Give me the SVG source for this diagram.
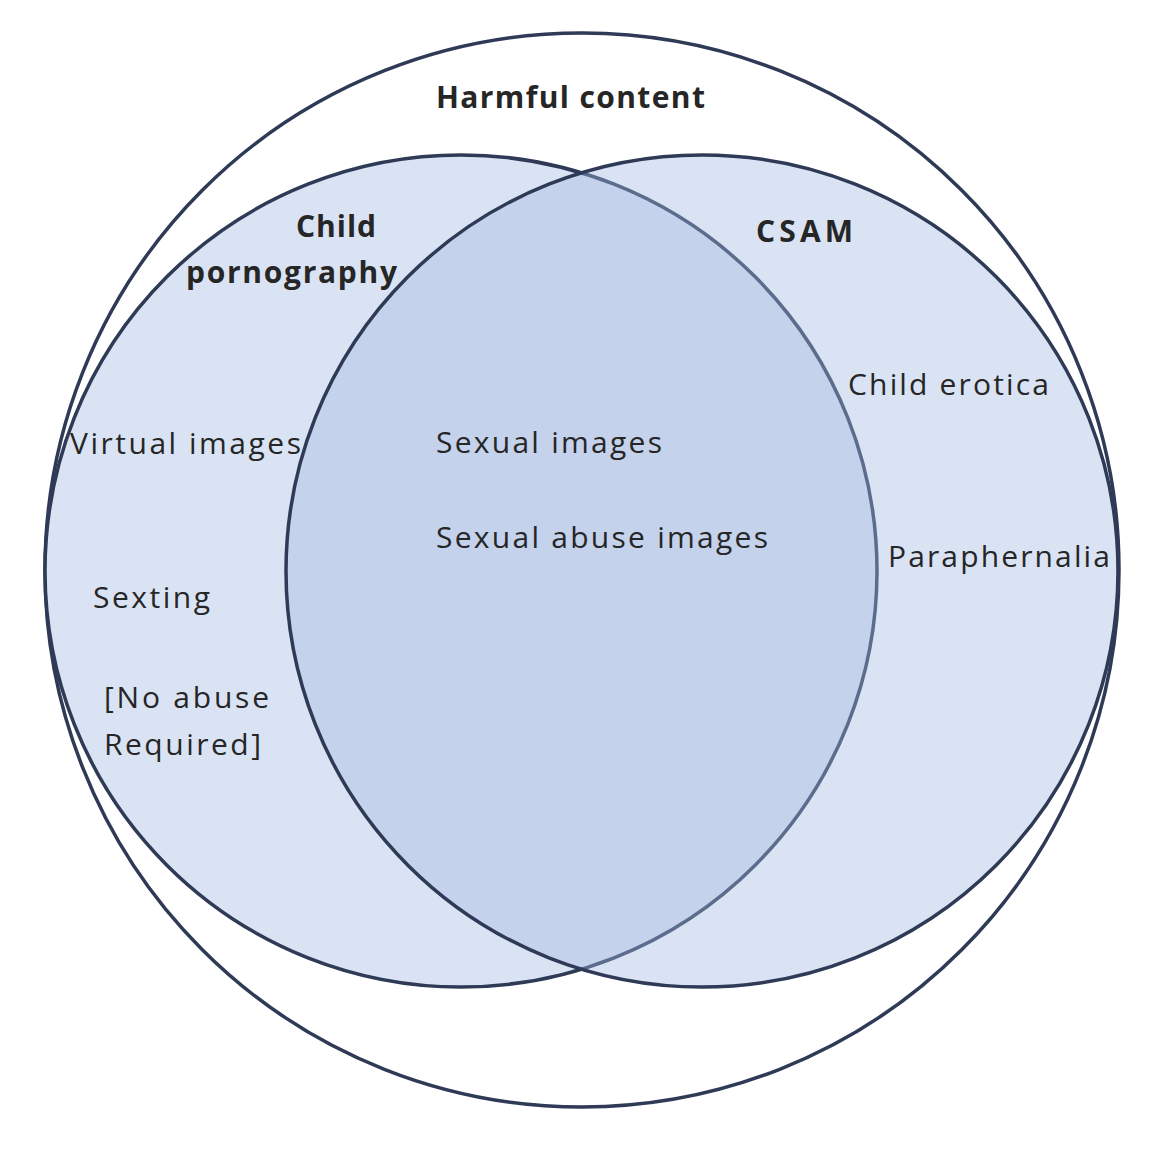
<svg xmlns="http://www.w3.org/2000/svg" width="1164" height="1156" viewBox="0 0 1164 1156">
<style>
.c{stroke:#2e3a56;stroke-width:3.5}
text{font-family:"Open Sans","Liberation Sans",sans-serif;font-size:30px;fill:#262626;lengthAdjust:spacingAndGlyphs}
.b{font-weight:bold}
</style>
<rect width="1164" height="1156" fill="#fff"/>
<g id="harmful"><circle class="c" cx="582" cy="570" r="537" fill="#fff"/>
<text class="b" x="436" y="108" textLength="269">Harmful content</text></g>
<g id="childporn"><circle class="c" cx="461" cy="571" r="416" fill="#dae3f3"/>
<text class="b" x="296" y="237" textLength="80">Child</text>
<text class="b" x="186" y="283" textLength="211">pornography</text>
<text x="70" y="454" textLength="231">Virtual images</text>
<text x="93" y="608" textLength="117">Sexting</text>
<text x="104" y="708" textLength="165">[No abuse</text>
<text x="104" y="755" textLength="157">Required]</text></g>
<g id="csam"><circle class="c" cx="702" cy="571" r="416" fill="rgb(162,185,225)" fill-opacity="0.4"/>
<text class="b" x="756" y="242" textLength="97">CSAM</text>
<text x="848" y="395" textLength="201">Child erotica</text>
<text x="888" y="567" textLength="222">Paraphernalia</text></g>
<g id="overlap">
<text x="436" y="453" textLength="226">Sexual images</text>
<text x="436" y="548" textLength="332">Sexual abuse images</text></g>
<g id="connectors"/>
</svg>
